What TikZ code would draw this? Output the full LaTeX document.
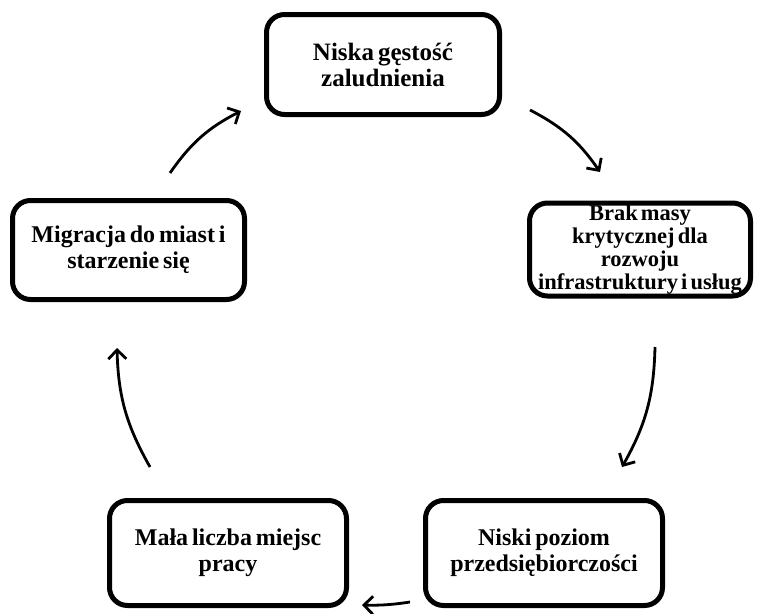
\documentclass[tikz,border=0pt]{standalone}
\usepackage{fontspec}
\setmainfont{Liberation Serif}
\usetikzlibrary{arrows.meta}
\newcommand\boxfnt[3]{\fontsize{#1}{#2}\selectfont\bfseries\spaceskip=#3em\relax}
\begin{document}
\begin{tikzpicture}[x=1pt,y=-1pt,
  box/.style={draw=black, line width=5pt, rounded corners=18pt, fill=white,
    align=center, font={\boxfnt{24}{26}{0.16}}, inner sep=1pt},
  boxtext/.style={align=center, inner sep=0pt, font={\boxfnt{22.5}{23}{0.14}}},
  flow/.style={line width=2.8pt, -{Straight Barb[length=9pt,width=18pt,line width=2.8pt]}, bend left=14}]
\useasboundingbox (0,0) rectangle (757,613);
\node[box, minimum width=233pt, minimum height=100pt, font={\boxfnt{25}{26}{0.16}}] (top) at (383,64.5) {Niska gęstość\\zaludnienia};
\node[box, minimum width=221pt, minimum height=93pt] (right) at (640,249.5) {};
\node[boxtext] (righttext) at ([yshift=-0.5pt]right.center) {Brak masy\\krytycznej dla\\rozwoju\\infrastruktury i usług};
\node[box, minimum width=232pt, minimum height=99pt] (left) at (128.5,250) {Migracja do miast i\\starzenie się};
\node[box, minimum width=237pt, minimum height=105pt] (bl) at (228,553) {Mała liczba miejsc\\pracy};
\node[box, minimum width=237pt, minimum height=105pt] (br) at (544,553) {Niski poziom\\przedsiębiorczości};
\coordinate (a1s) at (170,173); \coordinate (a1e) at (241,111);
\coordinate (a2s) at (530,110); \coordinate (a2e) at (600,172);
\coordinate (a3s) at (655,347); \coordinate (a3e) at (622,467);
\coordinate (a4s) at (410,602); \coordinate (a4e) at (362,605);
\coordinate (a5s) at (150,467); \coordinate (a5e) at (117,348);
\draw[flow] (a1s) to (a1e);
\draw[flow] (a2s) to (a2e);
\draw[flow] (a3s) to (a3e);
\draw[flow, bend left=5] (a4s) to (a4e);
\draw[flow] (a5s) to (a5e);
\end{tikzpicture}
\end{document}
